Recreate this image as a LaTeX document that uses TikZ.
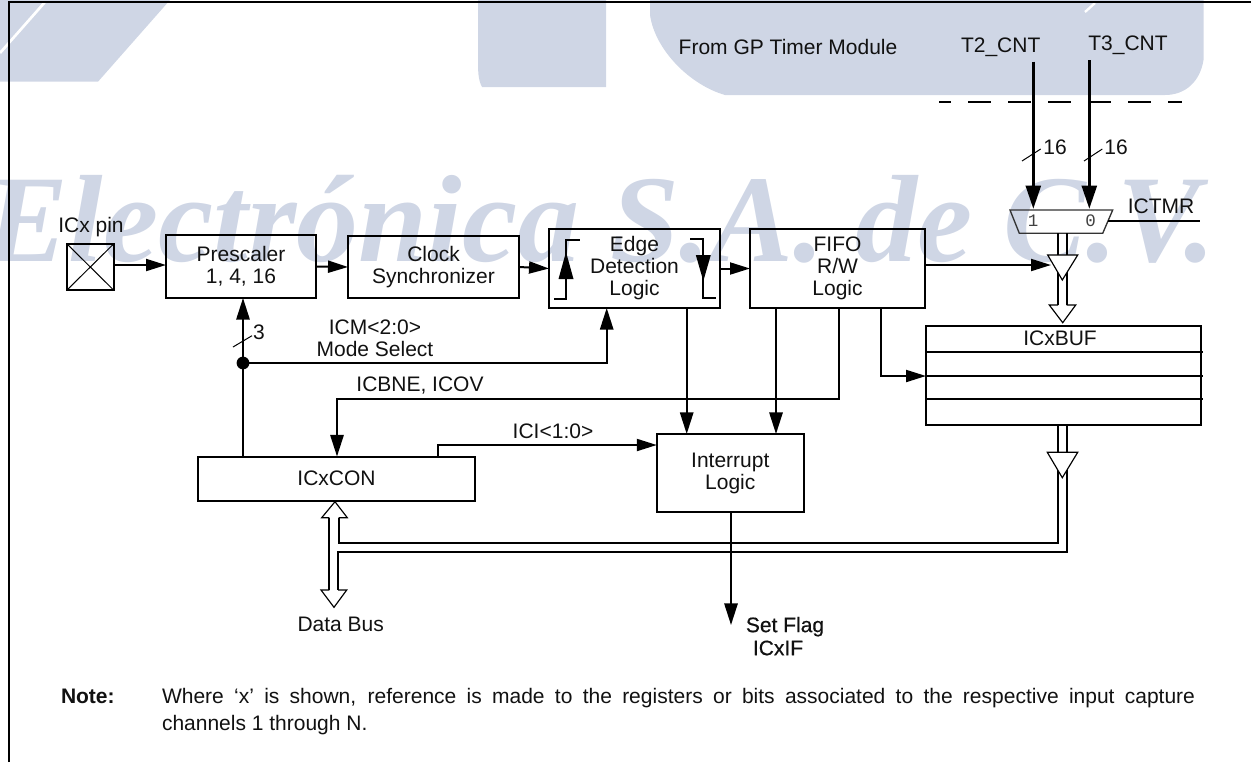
\documentclass[tikz,border=0pt]{standalone}
\usepackage{fontspec}
\setmainfont{Liberation Sans}
\setmonofont{Liberation Mono}
\newfontfamily\wmfont{Liberation Serif}
\newfontfamily\boldish[FakeBold=0.5]{Liberation Sans}
\usetikzlibrary{arrows.meta,calc}
\definecolor{wmblue}{HTML}{CFD6E5}
\definecolor{ink}{HTML}{111111}
\tikzset{
  every node/.style={font=\fontsize{12.6}{13.2}\selectfont,text=ink,inner sep=0pt,outer sep=0pt},
  box/.style={draw=black,line width=1.2pt,align=center},
  lab/.style={align=center},
  wire/.style={draw=black,line width=1.2pt},
  thin wire/.style={draw=black,line width=0.6pt},
  arr/.style={wire,-{Triangle[length=13pt,width=8pt]}},
  harr/.style={wire,-{Triangle[length=12pt,width=7.2pt]}},
  thick arr/.style={draw=black,line width=2.1pt,-{Triangle[length=14pt,width=8.8pt]}},
  bus/.style={draw=black,line width=1.2pt},
  tri/.style={draw=black,fill=white,line width=0.7pt},
  head/.style={draw=black,line width=0.7pt,fill=white,line join=miter},
  slash/.style={draw=black,line width=0.6pt},
  mono/.style={font=\fontsize{10.5}{12}\ttfamily,text=black!75},
}
\begin{document}
\begin{tikzpicture}[x=0.6pt,y=-0.6pt]
\useasboundingbox (0,0) rectangle (1251,762);
% watermark
\fill[wmblue] (0,0) -- (170,0) -- (98,81.7) -- (0,81.7) -- cycle;
\draw[white,line width=1.6pt] (45,2) -- (0,53);
\fill[wmblue] (478,0) -- (606,0) -- (606,87) -- (482,87) .. controls (478,80) and (478,70) .. (478,60) -- cycle;
\fill[wmblue] (650,0) -- (1203.5,0) -- (1203.5,60)
   .. controls (1200,82) and (1185,95) .. (1165,95)
   -- (725,95) .. controls (690,85) and (655,50) .. (650,15) -- cycle;
\draw[white,line width=1.4pt] (1095,3) -- (1085,12);
\node[anchor=base west,font=\fontsize{74.5}{80}\wmfont\bfseries\itshape,text=wmblue] (wm) at (-14,261) {Electrónica S.A. de C.V.};
% frame
\draw[line width=1.2pt,black] (8.5,762) -- (8.5,2) -- (1251,2);
% boxes
\node[box,minimum width=27.9pt,minimum height=27.6pt] (pin) at (90.3,267) {};
\draw[thin wire] (pin.north west) -- (pin.south east) (pin.north east) -- (pin.south west);
\node[lab] (pinl) at (91,226.7) {ICx pin};
\node[box,minimum width=90pt,minimum height=37.8pt] (pre) at (241,266.5) {Prescaler\\1, 4, 16};
\node[box,minimum width=102.6pt,minimum height=37.2pt] (clk) at (433.5,267) {Clock\\Synchronizer};
\node[box,minimum width=102.6pt,minimum height=47.4pt] (edg) at (634.5,268.5) {Edge\\Detection\\Logic};
\node[box,minimum width=105pt,minimum height=47.4pt] (fifo) at (837.5,268.5) {FIFO\\R/W\\Logic};
\node[box,minimum width=166.2pt,minimum height=26.4pt] (con) at (336.5,478.5) {ICxCON};
\node[box,minimum width=88.2pt,minimum height=46.8pt] (int) at (730.3,473) {Interrupt\\Logic};
\node[box,minimum width=165pt,minimum height=59.4pt] (buf) at (1063.5,375.2) {};
\node[lab] (bufl) at (1060,338) {ICxBUF};
\draw[wire] (buf.west |- 0,351.7) coordinate (b1l) -- ++(277,0) coordinate (b1r);
\draw[wire] (buf.west |- 0,376) coordinate (b2l) -- ++(277,0) coordinate (b2r);
\draw[wire] (buf.west |- 0,398.7) coordinate (b3l) -- ++(277,0) coordinate (b3r);
% edge glyphs
\coordinate (g1a) at (554,299.3); \coordinate (g1b) at (566,299.3); \coordinate (g1c) at (566,240); \coordinate (g1d) at (580,240);
\draw[wire] (g1a) -- (g1b) -- (g1c) -- (g1d);
\fill[black] (566,252) -- (573.5,279) -- (558.5,279) -- cycle;
\coordinate (g2a) at (690,239); \coordinate (g2b) at (703.3,239); \coordinate (g2c) at (703.3,297.7); \coordinate (g2d) at (715.7,297.7);
\draw[wire] (g2a) -- (g2b) -- (g2c) -- (g2d);
\fill[black] (703.3,281) -- (710.8,255) -- (695.8,255) -- cycle;
% main horizontal arrows
\draw[harr] (pin.east) ++(1.5,-2) coordinate (p0) -- (p0 -| pre.west);
\draw[harr] (pre.east) -- (clk.west);
\draw[harr] (clk.east) -- (edg.west);
\draw[harr] (edg.east) -- (fifo.west);
% control lines
\coordinate (dot) at (243,363);
\draw[arr] (con.north -| dot) -- (pre.south -| dot);
\fill[black] (dot) circle (6.4);
\coordinate (icmup) at (606.7,363);
\draw[arr] (dot) -- (icmup) -- (icmup |- edg.south);
\draw[slash] (233,347) -- (252,335.7);
\node[lab] (n3) at (259,332.7) {3};
\node[lab] (icm) at (375,338.5) {ICM<2:0>\\Mode Select};
\node[lab] (icb) at (420,385) {ICBNE, ICOV};
\coordinate (ic1) at (839,399);
\coordinate (ic2) at (337,399);
\draw[arr] (ic1 |- fifo.south) -- (ic1) -- (ic2) -- (ic2 |- con.north);
\coordinate (ci1) at (437.7,445);
\draw[harr] (ci1 |- con.north) -- (ci1) -- (ci1 -| int.west);
\node[lab] (ici) at (553,431.7) {ICI<1:0>};
\coordinate (ex) at (686.7,308);
\coordinate (fx) at (776,308);
\coordinate (gx) at (880.7,376);
\draw[arr] (ex) -- (ex |- int.north);
\draw[arr] (fx) -- (fx |- int.north);
\draw[harr] (gx |- fifo.south) -- (gx) -- (b2l);
\coordinate (flag) at (731,625);
\draw[arr] (flag |- int.south) -- (flag);
\node[lab,font=\fontsize{12.6}{13.2}\boldish] (sf) at (785,626.7) {Set Flag};
\node[lab,font=\fontsize{12.6}{13.2}\boldish] (ifl) at (778,648) {ICxIF};
\node[lab] (dbus) at (340.7,624) {Data Bus};
% top section
\node[lab] (gp) at (788,46.7) {From GP Timer Module};
\node[lab] (t2) at (1000.7,47) {T2\_CNT};
\node[lab] (t3) at (1128,45) {T3\_CNT};
\coordinate (m1) at (1033.3,209); \coordinate (m0) at (1089.3,209);
\draw[thick arr] (1033.3,61.7) coordinate (t2s) -- (m1);
\draw[thick arr] (1089.3,60) coordinate (t3s) -- (m0);
\draw[line width=1.2pt,dash pattern=on 13.8pt off 10.2pt,dash phase=6.6pt] (939,101.7) coordinate (da) -- (1182,101.7) coordinate (db);
\draw[slash] (1022,161) -- (1040.7,149);
\draw[slash] (1084,161) -- (1102.3,149);
\node[lab] (n16a) at (1055,147) {16};
\node[lab] (n16b) at (1116,147) {16};
% mux
\coordinate (ma) at (1010,210); \coordinate (mb) at (1112.7,210); \coordinate (mc) at (1102.7,233.3); \coordinate (md) at (1019.3,233.3);
\draw[line width=0.8pt,black!80] (ma) -- (mb) -- (mc) -- (md) -- cycle;
\node[mono] (one) at (1033,221) {1};
\node[mono] (zero) at (1090.7,221) {0};
\node[lab] (ict) at (1161,206.7) {ICTMR};
\coordinate (me) at (1200,220.7);
\draw[wire] (1108,220.7) coordinate (mf) -- (me);
% buses: mux to buf
\coordinate (bt1) at (1058,233.3); \coordinate (bt2) at (1066.7,233.3);
\coordinate (bt3) at (1058,305); \coordinate (bt4) at (1066.7,305);
\draw[bus] (bt1) -- (bt3) (bt2) -- (bt4);
\coordinate (hh) at (1062.7,322.7);
\draw[head] (bt3) -- (1049.3,305) -- (hh) -- (1075.7,305) -- (bt4);
\draw[harr] (fifo.east |- 0,265) coordinate (tf) -- (1051,265);
\draw[tri] (1047.7,255) -- (1077.7,255) -- (1062.3,280) -- cycle;
% bus: buf to data bus
\coordinate (bb1) at (1058,424.7); \coordinate (bb2) at (1066.7,424.7);
\coordinate (bc1) at (1058,542.7); \coordinate (bc2) at (1066.7,551.7);
\coordinate (bd1) at (338.7,542.7); \coordinate (bd2) at (338,551.7);
\coordinate (be1) at (338.7,517.7); \coordinate (be2) at (338,590);
\coordinate (bf1) at (329.3,517.7); \coordinate (bf2) at (329.3,590);
\draw[bus] (bb1) -- (bc1) -- (bd1) -- (be1);
\draw[bus] (bb2) -- (bc2) -- (bd2) -- (be2);
\draw[bus] (bf1) -- (bf2);
\draw[head] (be1) -- (347.3,517.7) -- (335,501.7) -- (321.7,517.7) -- (bf1);
\draw[head] (be2) -- (346.7,590) -- (334,607.3) -- (321,590) -- (bf2);
\draw[tri] (1047.3,452.3) -- (1077.7,452.3) -- (1062.3,477.7) -- cycle;
% note
\node[anchor=base west,font=\fontsize{12.6}{13.2}\selectfont\bfseries] (note) at (61,703) {Note:};
\node[anchor=base west] (l1) at (162,703) {\makebox[619.8pt][s]{Where ‘x’ is shown, reference is made to the registers or bits associated to the respective input capture}};
\node[anchor=base west] (l2) at (162,730) {channels 1 through N.};
\end{tikzpicture}
\end{document}
